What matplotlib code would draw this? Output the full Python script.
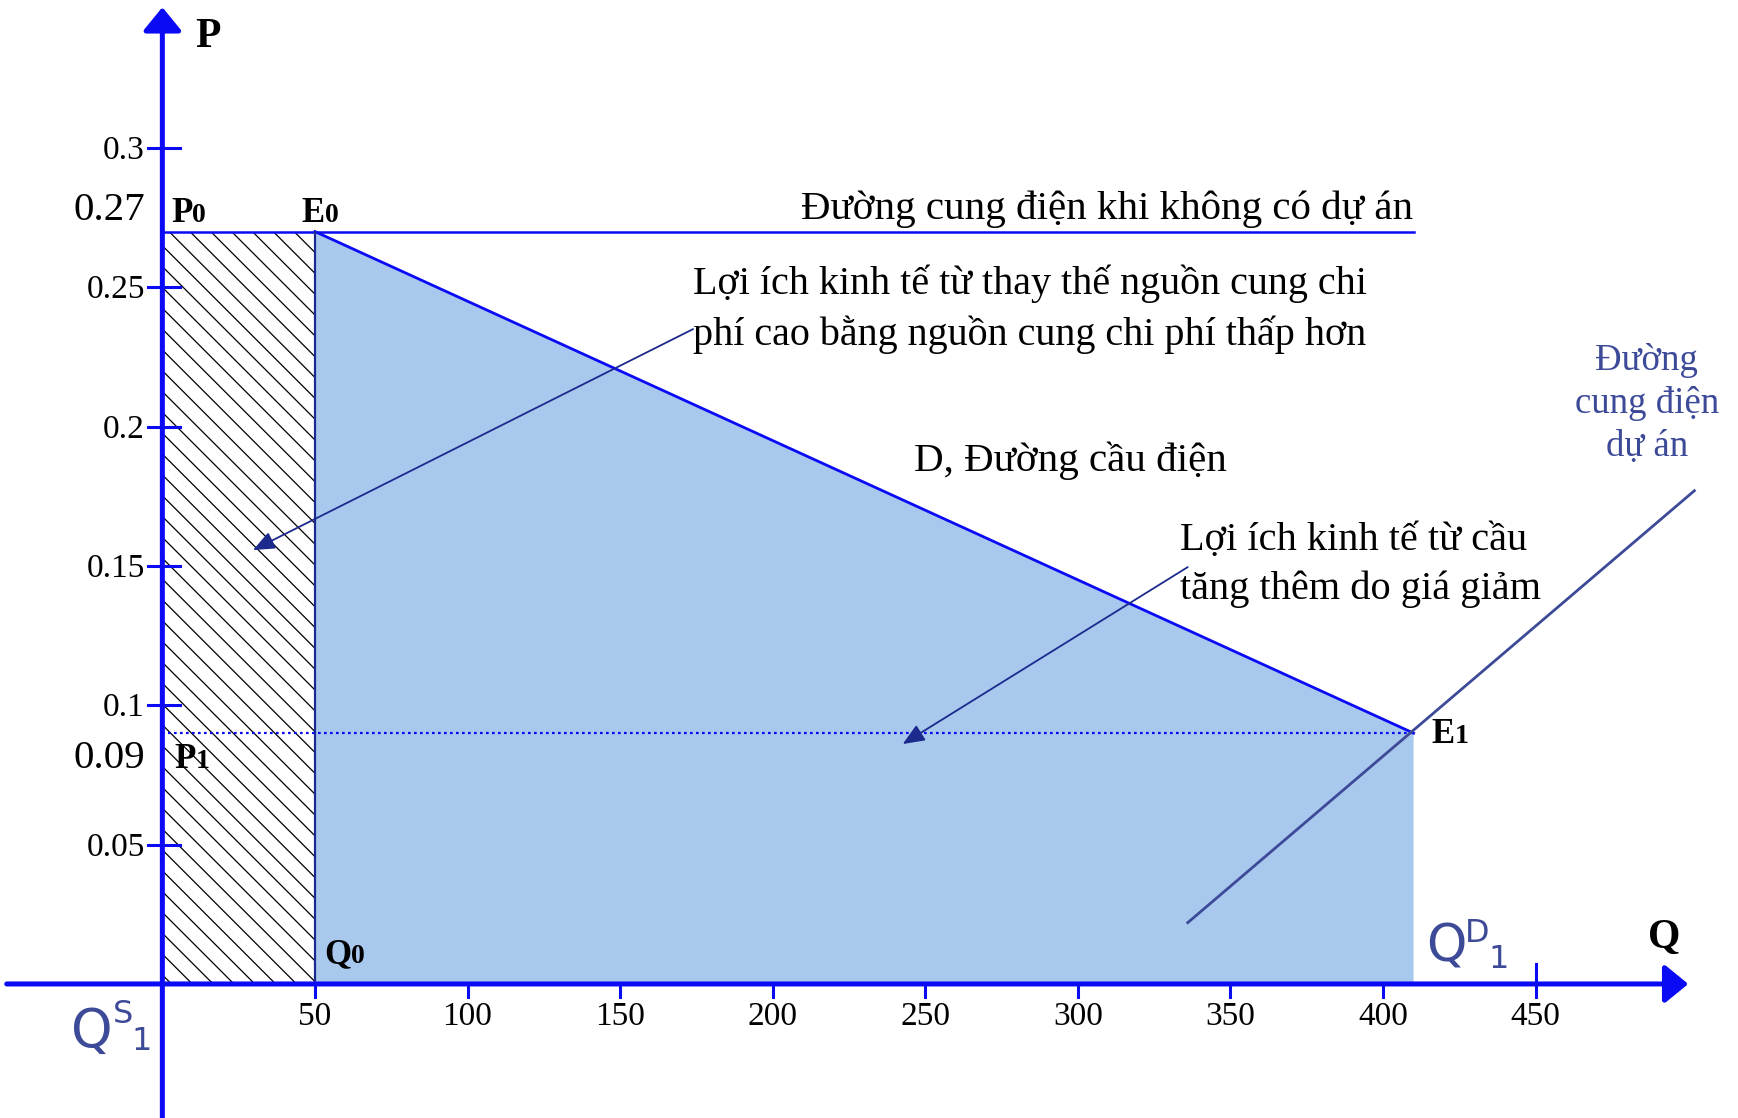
import matplotlib
matplotlib.use("Agg")
import matplotlib.pyplot as plt
from matplotlib.patches import Rectangle, Polygon

# --- data ---
q_ticks = [50, 100, 150, 200, 250, 300, 350, 400, 450]
p_ticks = [0.05, 0.1, 0.15, 0.2, 0.25, 0.3]
p_tick_labels = ["0.05", "0.1", "0.15", "0.2", "0.25", "0.3"]

Q0, Q1 = 50, 410          # quantity before / after the project
P0, P1 = 0.27, 0.09       # price before / after the project

demand_q = [Q0, Q1]
demand_p = [P0, P1]

supply_project_q = [336, 502]
supply_project_p = [0.022, 0.177]

# rendering resolution; sizes below are written for 100 dpi and scaled by F
DPI = 125
F = 100 / DPI

BLUE = "#0a0af5"
NAVY = "#1c2a8e"
SLATE = "#3d4a98"
FILL = "#a8c8ee"
SERIF = "Liberation Serif"
SANS = "DejaVu Sans"

plt.rcParams["hatch.linewidth"] = 0.9 * F
plt.rcParams["hatch.color"] = "black"

fig = plt.figure(figsize=(1738 / DPI, 1118 / DPI), dpi=DPI)
ax = fig.add_axes([0, 0, 1, 1])
ax.set_xlim(-53.2, 516.3)
ax.set_ylim(-0.0481, 0.3531)
ax.axis("off")

# benefit area under the demand curve
ax.add_patch(Polygon([(Q0, 0), (Q0, P0), (Q1, P1), (Q1, 0)], closed=True,
                     facecolor=FILL, edgecolor="none", zorder=1))
# hatched replacement-benefit rectangle
ax.add_patch(Rectangle((0, 0), Q0, P0, facecolor="white", edgecolor="black",
                       hatch="\\\\", linewidth=0, zorder=1))

# old supply line, demand line, Q0 edge, P1 dotted line
ax.plot([0, Q1], [P0, P0], color=BLUE, lw=1.8 * F, zorder=3)
ax.plot(demand_q, demand_p, color=BLUE, lw=2.0 * F, zorder=3)
ax.plot([Q0, Q0], [0, P0], color=NAVY, lw=1.6 * F, zorder=3)
ax.plot([0, Q1], [P1, P1], color=BLUE, lw=1.6 * F, ls=(0, (1.2, 1.5)), zorder=3)

# project supply line
ax.plot(supply_project_q, supply_project_p, color=SLATE, lw=2.0 * F, zorder=4)

# axes with arrows
axis_arrow = dict(arrowstyle="-|>,head_length=0.55,head_width=0.45",
                  mutation_scale=26 * F, lw=3.6 * F, color=BLUE,
                  shrinkA=0, shrinkB=0)
ax.annotate("", xy=(500, 0), xytext=(-51, 0), arrowprops=axis_arrow, zorder=5)
ax.annotate("", xy=(0, 0.3505), xytext=(0, -0.05), arrowprops=axis_arrow, zorder=5)

# ticks
for q in q_ticks:
    ax.plot([q, q], [0.0072, -0.0047], color=BLUE, lw=2.2 * F, zorder=0)
    ax.text(q, -0.0118, str(q), ha="center", va="center",
            fontsize=24 * F, family=SERIF, color="black")
for p, lab in zip(p_ticks, p_tick_labels):
    ax.plot([-4.8, 5.8], [p, p], color=BLUE, lw=2.2 * F, zorder=5)
    ax.text(-5.7, p - 0.001, lab, ha="right", va="center",
            fontsize=24 * F, family=SERIF, color="black")

ax.text(-5.7, 0.2775, "0.27", ha="right", va="center", fontsize=29.5 * F, family=SERIF)
ax.text(-5.7, 0.081, "0.09", ha="right", va="center", fontsize=29.5 * F, family=SERIF)


def sub_label(x, y, main, sub, size=25, subsize=20):
    t = ax.text(x, y, main, ha="left", va="baseline", fontsize=size * F,
                family=SERIF, fontweight="bold", zorder=6)
    fig.canvas.draw()
    bb = t.get_window_extent()
    x_end = ax.transData.inverted().transform((bb.x1, bb.y0))[0]
    ax.text(x_end, y, sub, ha="left", va="baseline", fontsize=subsize * F,
            family=SERIF, fontweight="bold", zorder=6)


sub_label(2.8, 0.2734, "P", "0")
sub_label(45.7, 0.2734, "E", "0")
sub_label(3.8, 0.0775, "P", "1")
sub_label(53.0, 0.0075, "Q", "0")
sub_label(416.0, 0.0865, "E", "1")

ax.text(15.0, 0.340, "P", ha="center", va="center", fontsize=30 * F,
        family=SERIF, fontweight="bold")
ax.text(486.7, 0.0129, "Q", ha="left", va="baseline", fontsize=30 * F,
        family=SERIF, fontweight="bold")


def q_label(xq, yq, qsize, sup, xs, ys, sub, xb, yb, small=23):
    ax.text(xq, yq, "Q", ha="left", va="baseline", fontsize=qsize * F,
            family=SANS, color=SLATE, zorder=6)
    ax.text(xs, ys, sup, ha="left", va="baseline", fontsize=small * F,
            family=SANS, color=SLATE, zorder=6)
    ax.text(xb, yb, sub, ha="left", va="baseline", fontsize=small * F,
            family=SANS, color=SLATE, zorder=6)


q_label(-30.0, -0.0226, 38, "S", -16.2, -0.0140, "1", -10.0, -0.0237)
q_label(414.0, 0.0080, 37, "D", 426.8, 0.0151, "1", 434.5, 0.0057)

# descriptive texts
ax.text(409.8, 0.2745, "Đường cung điện khi không có dự án", ha="right",
        va="baseline", fontsize=29.5 * F, family=SERIF)
ax.text(173.8, 0.2476, "Lợi ích kinh tế từ thay thế nguồn cung chi",
        ha="left", va="baseline", fontsize=28.9 * F, family=SERIF)
ax.text(173.8, 0.2293, "phí cao bằng nguồn cung chi phí thấp hơn",
        ha="left", va="baseline", fontsize=28.9 * F, family=SERIF)
ax.text(246.3, 0.184, "D, Đường cầu điện", ha="left", va="baseline",
        fontsize=29.5 * F, family=SERIF)
ax.text(333.5, 0.1557, "Lợi ích kinh tế từ cầu", ha="left", va="baseline",
        fontsize=29.1 * F, family=SERIF)
ax.text(333.5, 0.138, "tăng thêm do giá giảm", ha="left", va="baseline",
        fontsize=29.1 * F, family=SERIF)
for line, yb in zip(["Đường", "cung điện", "dự án"], [0.2203, 0.2048, 0.1896]):
    ax.text(486.4, yb, line, ha="center", va="baseline", fontsize=26.5 * F,
            family=SERIF, color=SLATE)

# pointer arrows
arrow_kw = dict(arrowstyle="-|>,head_length=0.6,head_width=0.25",
                mutation_scale=22 * F, lw=1.3 * F, color=NAVY,
                shrinkA=0, shrinkB=0)
ax.annotate("", xy=(29.7, 0.1557), xytext=(173.9, 0.235),
            arrowprops=arrow_kw, zorder=6)
ax.annotate("", xy=(242.6, 0.0861), xytext=(336.0, 0.1496),
            arrowprops=arrow_kw, zorder=6)

fig.savefig("out.png", dpi=DPI)
